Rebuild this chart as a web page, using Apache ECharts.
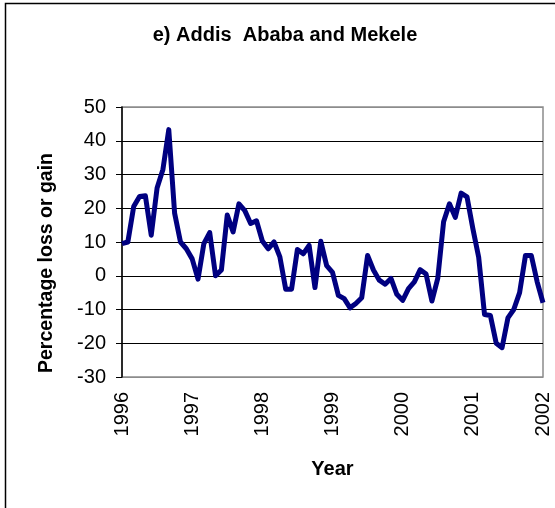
<!DOCTYPE html>
<html>
<head>
<meta charset="utf-8">
<script src="https://cdn.jsdelivr.net/npm/echarts@6/dist/echarts.min.js"></script>
<style>
html,body{margin:0;padding:0;background:#fff;}
#c{width:555px;height:508px;}
</style>
</head>
<body>
<div id="c"></div>
<script>
// Monthly percentage loss or gain, Jan 1996 .. Jan 2002
var startYear = 1996;
var monthlyValues = [
  9.5, 10, 20.5, 23.5, 23.7, 12, 26, 31.5, 43.3, 18.5, 10, 8,
  5, -1, 9.5, 12.8, 0, 1.7, 18, 13, 21.3, 19.3, 15.5, 16.3,
  10.3, 8, 10, 5.6, -4, -4, 7.8, 6.5, 9, -3.5, 10.2, 3,
  1, -5.8, -6.8, -9.5, -8.2, -6.5, 6, 1.7, -1.3, -2.5, -0.8, -5.5,
  -7.3, -3.8, -1.8, 1.8, 0.5, -7.5, -0.8, 16, 21.3, 17.3, 24.5, 23.4,
  14, 5.5, -11.5, -11.8, -20, -21.3, -12.5, -10, -5, 6, 6, -1.8,
  -8
];
var yearTicks = [1996, 1997, 1998, 1999, 2000, 2001, 2002];
var valueTicks = [-30, -20, -10, 0, 10, 20, 30, 40, 50];
var titleText = 'e) Addis  Ababa and Mekele';
var yName = 'Percentage loss or gain';
var xName = 'Year';

var seriesData = monthlyValues.map(function (v, i) { return [startYear + i / 12, v]; });
var splitColors = valueTicks.map(function (t, i) { return (i === 0 || i === valueTicks.length - 1) ? '#8c8c8c' : '#000'; });

var chart = echarts.init(document.getElementById('c'), null, {renderer: 'canvas'});
var font = 'Liberation Sans, Arial, sans-serif';
chart.setOption({
  animation: false,
  backgroundColor: '#fff',
  textStyle: {fontFamily: font},
  graphic: [{
    type: 'rect', z: 100, silent: true,
    shape: {x: 5.5, y: 3.5, width: 620, height: 620},
    style: {fill: 'none', stroke: '#000', lineWidth: 1.5}
  }, {
    type: 'text', z: 100, silent: true,
    x: 285, y: 35,
    style: {text: titleText, fontFamily: font, fontSize: 20, fontWeight: 'bold', fill: '#000',
      align: 'center', verticalAlign: 'middle'}
  }, {
    type: 'text', z: 100, silent: true,
    x: 47, y: 263, rotation: Math.PI / 2,
    style: {text: yName, fontFamily: font, fontSize: 19.5, fontWeight: 'bold', fill: '#000',
      align: 'center', verticalAlign: 'middle'}
  }],
  grid: {
    left: 122, right: 12, top: 107, bottom: 131,
    show: true, borderColor: '#8c8c8c', borderWidth: 1.5, backgroundColor: 'transparent'
  },
  xAxis: {
    type: 'value', min: 1996, max: 2002, interval: 1,
    axisLine: {show: false},
    axisTick: {show: false},
    splitLine: {show: false},
    axisLabel: {rotate: 90, fontSize: 20, color: '#000', margin: 15, fontFamily: font,
      formatter: function (v) { return String(v); }},
    name: xName, nameLocation: 'middle', nameGap: 82,
    nameTextStyle: {fontSize: 20, fontWeight: 'bold', color: '#000', fontFamily: font}
  },
  yAxis: {
    type: 'value', min: -30, max: 50, interval: 10,
    axisLine: {show: true, onZero: false, lineStyle: {color: '#000', width: 1.5}},
    axisTick: {show: true, length: 6, lineStyle: {color: '#000', width: 1}},
    splitLine: {show: true, lineStyle: {color: splitColors, width: 1}},
    axisLabel: {fontSize: 20, color: '#000', margin: 16, fontFamily: font}
  },
  series: [{
    type: 'line',
    data: seriesData,
    showSymbol: false,
    smooth: false,
    lineStyle: {color: '#000080', width: 5, join: 'round'},
    itemStyle: {color: '#000080'}
  }]
});
</script>
</body>
</html>
